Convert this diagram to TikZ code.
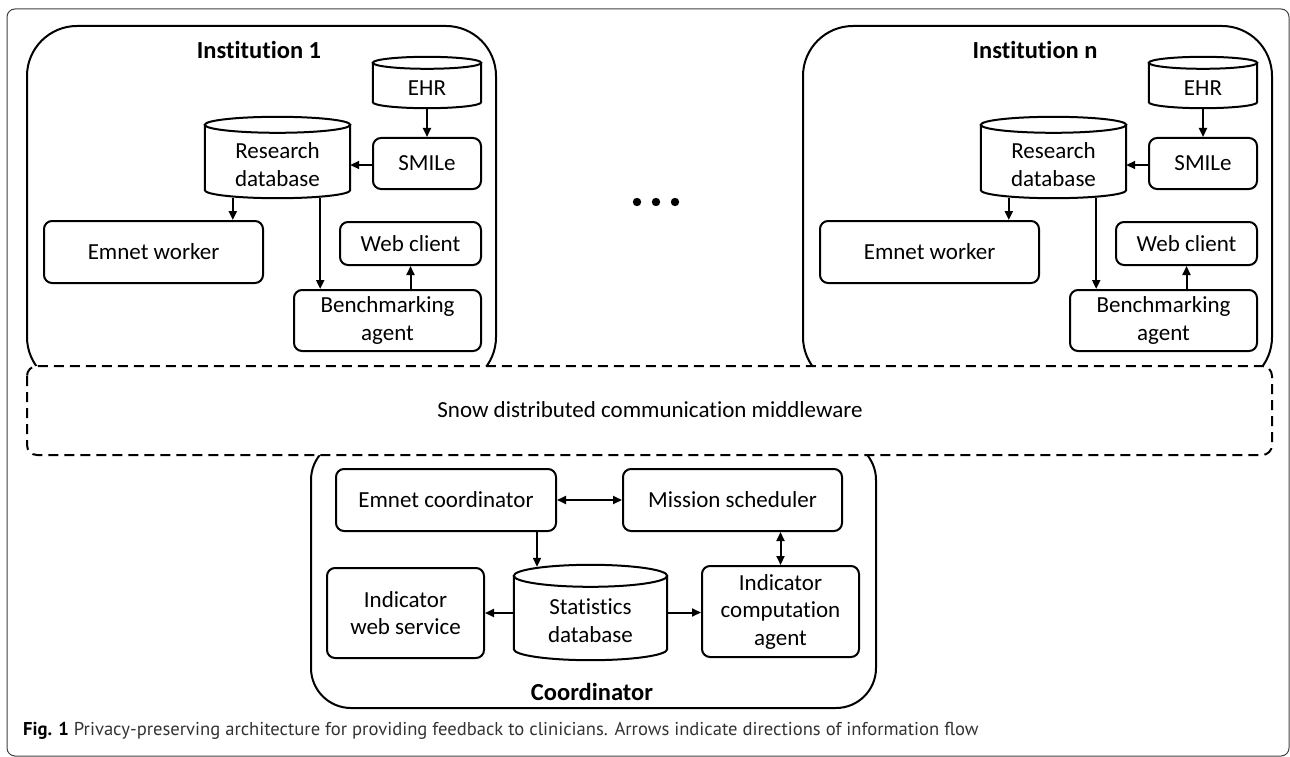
\documentclass[tikz,border=0pt]{standalone}
\usepackage{fontspec}
\setmainfont[RawFeature={-liga;-clig;-calt;-dlig}]{Carlito}
\newfontfamily\capfont{PT Sans}
\usetikzlibrary{arrows.meta,calc}
\newcommand\dia{\fontsize{23}{27.5}\selectfont}
\newcommand\drawcyl[2]{%
  \draw[line width=2] let \p1=(#1.north west), \p2=(#1.south east) in
    ({\x1},{\y1-#2}) -- ({\x1},{\y2+#2})
    arc[start angle=180,end angle=360,x radius={(\x2-\x1)/2},y radius=#2]
    -- ({\x2},{\y1-#2});
  \draw[line width=2] let \p1=(#1.north west), \p2=(#1.south east) in
    ({(\x1+\x2)/2},{\y1-#2}) ellipse[x radius={(\x2-\x1)/2},y radius=#2];}
\begin{document}
\begin{tikzpicture}[x=1pt,y=-1pt,
  box/.style={draw,line width=2,rounded corners=8,align=center,font=\dia,inner sep=0pt},
  cylbox/.style={inner sep=0pt},
  txt/.style={align=center,font=\dia,inner sep=0pt},
  title/.style={font=\fontsize{24.5}{29}\selectfont\bfseries,inner sep=0pt},
  group/.style={draw,line width=2,rounded corners=#1},
  arr/.style={line width=2,-{Triangle[length=9pt,width=8pt]}},
  darr/.style={line width=2,{Triangle[length=9pt,width=8pt]}-{Triangle[length=9pt,width=8pt]}}]
\useasboundingbox (0,0) rectangle (1290,757);
\draw[line width=1,black!75,rounded corners=8] (7,9) rectangle (1289,756);

% ---------- Institution 1 ----------
\draw[group=50] (27,26) rectangle (496,387);
\node[title] (t1) at (259,50) {Institution 1};
\node[cylbox,minimum width=108,minimum height=51] (ehr1) at (427,82.5) {};
\drawcyl{ehr1}{6pt}
\node[txt] (ehr1t) at ([yshift=-6]ehr1.center) {EHR};
\node[box,minimum width=108,minimum height=51] (smile1) at (427,163.5) {SMILe};
\node[cylbox,minimum width=145,minimum height=81] (rdb1) at (277.5,157.5) {};
\drawcyl{rdb1}{8pt}
\node[txt] (rdb1t) at ([yshift=-7]rdb1.center) {Research\\database};
\node[box,minimum width=219,minimum height=62] (emw1) at (153.5,252) {Emnet worker};
\node[box,minimum width=141,minimum height=43] (web1) at (410.5,243.5) {Web client};
\node[box,minimum width=187,minimum height=61] (ben1) at (387.5,320.5) {Benchmarking\\agent};
\draw[arr] (ehr1) -- (smile1);
\draw[arr] ([yshift=-1.5]smile1.west) -- ([yshift=-1.5]smile1.west -| rdb1.east);
\draw[arr] ([xshift=28]rdb1.south west) -- ([xshift=28]rdb1.south west |- emw1.north);
\draw[arr] ([xshift=-30]rdb1.south east) -- ([xshift=-30]rdb1.south east |- ben1.north);
\draw[arr] (ben1.north -| web1.south) -- (web1.south);

% ---------- Institution n ----------
\draw[group=50] (803,26) rectangle (1272,387);
\node[title] (tn) at (1035,50) {Institution n};
\node[cylbox,minimum width=108,minimum height=51] (ehrn) at (1203,82.5) {};
\drawcyl{ehrn}{6pt}
\node[txt] (ehrnt) at ([yshift=-6]ehrn.center) {EHR};
\node[box,minimum width=108,minimum height=51] (smilen) at (1203,163.5) {SMILe};
\node[cylbox,minimum width=145,minimum height=81] (rdbn) at (1053.5,157.5) {};
\drawcyl{rdbn}{8pt}
\node[txt] (rdbnt) at ([yshift=-7]rdbn.center) {Research\\database};
\node[box,minimum width=219,minimum height=62] (emwn) at (929.5,252) {Emnet worker};
\node[box,minimum width=141,minimum height=43] (webn) at (1186.5,243.5) {Web client};
\node[box,minimum width=187,minimum height=61] (benn) at (1163.5,320.5) {Benchmarking\\agent};
\draw[arr] (ehrn) -- (smilen);
\draw[arr] ([yshift=-1.5]smilen.west) -- ([yshift=-1.5]smilen.west -| rdbn.east);
\draw[arr] ([xshift=28]rdbn.south west) -- ([xshift=28]rdbn.south west |- emwn.north);
\draw[arr] ([xshift=-30]rdbn.south east) -- ([xshift=-30]rdbn.south east |- benn.north);
\draw[arr] (benn.north -| webn.south) -- (webn.south);

% dots
\fill (637,202) circle[radius=4.2] (656,202) circle[radius=4.2] (675,202) circle[radius=4.2];

% ---------- Coordinator ----------
\draw[group=40] (311,440) rectangle (876,708);
\node[title] (tc) at (592,692) {Coordinator};
\node[box,minimum width=220,minimum height=62] (emc) at (446,500) {Emnet coordinator};
\node[box,minimum width=219,minimum height=62] (ms) at (732.5,500) {Mission scheduler};
\node[box,minimum width=157,minimum height=90] (iws) at (405.5,613) {Indicator\\web service};
\node[cylbox,minimum width=153,minimum height=95] (sdb) at (590.5,612.5) {};
\drawcyl{sdb}{11pt}
\node[txt] (sdbt) at ([yshift=-8]sdb.center) {Statistics\\database};
\node[box,minimum width=157,minimum height=91] (ica) at (780.5,611.5) {Indicator\\computation\\agent};
\draw[darr] (emc) -- (ms);
\draw[darr] (ms.south -| ica.north) -- (ica.north);
\draw[arr] ([xshift=-20]emc.south east) -- ([xshift=-20,yshift=-2]emc.south east |- sdb.north);
\draw[arr] (sdb.west |- iws.east) -- (iws.east);
\draw[arr] (sdb.east) -- (sdb.east -| ica.west);

% ---------- Middleware ----------
\draw[line width=2,dash pattern=on 10pt off 6pt,rounded corners=10,fill=white] (27,366) rectangle (1272,455);
\node[txt] (mw) at (650,410) {Snow distributed communication middleware};

% ---------- Caption ----------
\node[anchor=west,inner sep=0pt,font=\capfont\fontsize{18.6}{22}\selectfont,text=black!80] (cap) at (23,731)
  {\textcolor{black}{\textbf{Fig. 1}} Privacy-preserving architecture for providing feedback to clinicians. Arrows indicate directions of information flow};
\end{tikzpicture}
\end{document}
